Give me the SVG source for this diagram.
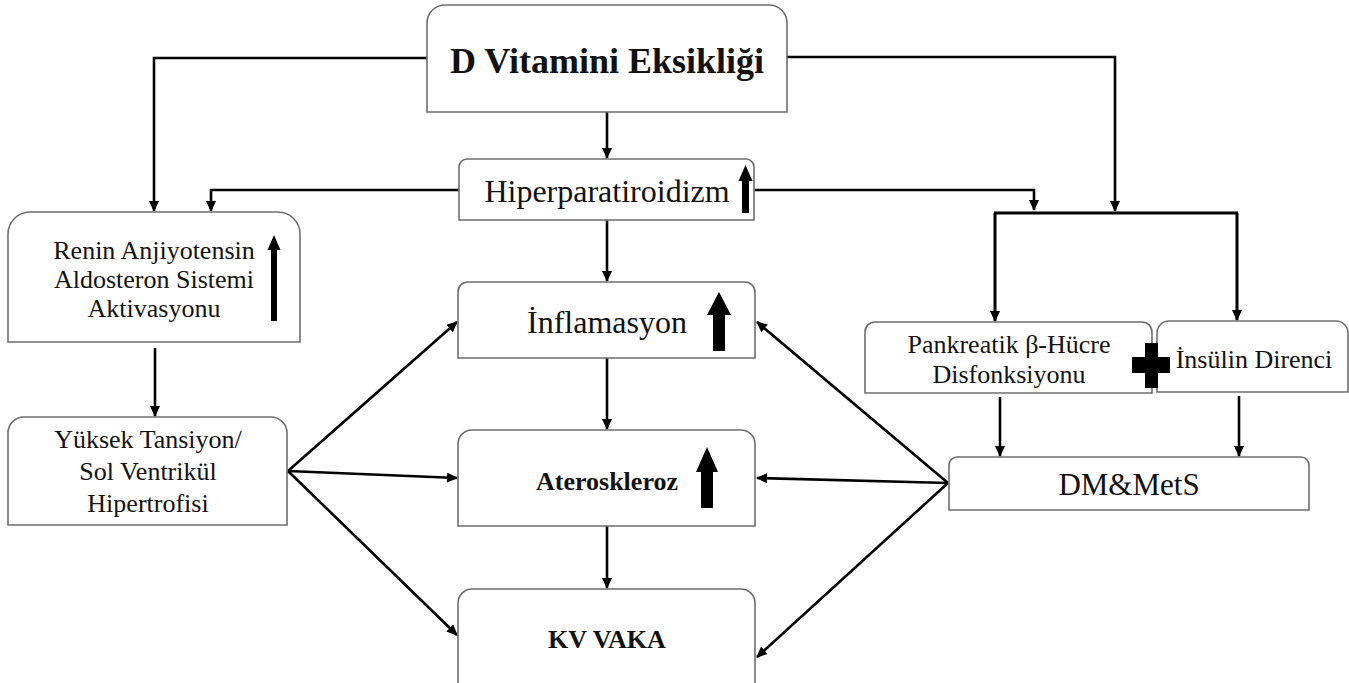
<svg xmlns="http://www.w3.org/2000/svg" width="1349" height="683" viewBox="0 0 1349 683">
<style>
.box{fill:#fff;stroke:#6e6e6e;stroke-width:1.6}
.t{font-family:"Liberation Serif",LiberationSerif,"Times New Roman",Times,"DejaVu Serif",serif;fill:#111;text-anchor:middle}
.b{font-weight:bold}
.c{fill:none;stroke:#000;stroke-width:2.6}
.ca{fill:none;stroke:#000;stroke-width:2.6;marker-end:url(#ah)}
.blk{fill:#000}
</style>
<defs>
<marker id="ah" markerUnits="userSpaceOnUse" markerWidth="11" markerHeight="10" refX="10" refY="5" orient="auto">
<path d="M0,0 L11,5 L0,10 Z" fill="#000"/>
</marker>
</defs>
<rect width="1349" height="683" fill="#fff"/>
<g id="connectors">
<path class="ca" d="M607,112 V158"/>
<path class="ca" d="M427,58 H154 V211"/>
<path class="ca" d="M787,57 H1115 V211"/>
<path class="ca" d="M459,190 H211 V211"/>
<path class="ca" d="M754,190 H1034 V210"/>
<path class="c" d="M994,213 H1238" style="stroke-width:3"/>
<path class="ca" d="M995,213 V321" style="stroke-width:3"/>
<path class="ca" d="M1237,213 V320" style="stroke-width:3"/>
<path class="ca" d="M607,220 V281"/>
<path class="ca" d="M155,348 V416"/>
<path class="ca" d="M607,358 V429"/>
<path class="ca" d="M607,526 V588"/>
<path class="ca" d="M288,471 L457,322"/>
<path class="ca" d="M288,471 L457,478"/>
<path class="ca" d="M288,471 L457,635"/>
<path class="ca" d="M948,483 L757,322"/>
<path class="ca" d="M948,483 L757,478"/>
<path class="ca" d="M948,483 L757,657"/>
<path class="ca" d="M1000,397 V456"/>
<path class="ca" d="M1239,396 V456"/>
</g>
<g id="n-dvit">
<path class="box" d="M427,112 V23 A18,18 0 0 1 445,5 H769 A18,18 0 0 1 787,23 V112 Z"/>
<text class="t b" x="607" y="73" font-size="36">D Vitamini Eksikliği</text>
</g>
<g id="n-hiper">
<path class="box" d="M459,220 V167 A8,8 0 0 1 467,159 H746 A8,8 0 0 1 754,167 V220 Z"/>
<text class="t" x="607" y="202" font-size="32">Hiperparatiroidizm</text>
<polygon class="blk" points="745.5,165 752.5,181 749,181 749,213 742,213 742,181 738.5,181"/>
</g>
<g id="n-renin">
<path class="box" d="M8,342 V234 A22,22 0 0 1 30,212 H278 A22,22 0 0 1 300,234 V342 Z"/>
<text class="t" x="154" y="259" font-size="26">Renin Anjiyotensin</text>
<text class="t" x="154" y="288" font-size="26">Aldosteron Sistemi</text>
<text class="t" x="154" y="317" font-size="26">Aktivasyonu</text>
<polygon class="blk" points="274,235 280.5,250 277,250 277,321 271,321 271,250 267.5,250"/>
</g>
<g id="n-yuksek">
<path class="box" d="M8,525 V433 A16,16 0 0 1 24,417 H271 A16,16 0 0 1 287,433 V525 Z"/>
<text class="t" x="148" y="448" font-size="26">Yüksek Tansiyon/</text>
<text class="t" x="148" y="480" font-size="26">Sol Ventrikül</text>
<text class="t" x="148" y="512" font-size="26">Hipertrofisi</text>
</g>
<g id="n-infl">
<path class="box" d="M458,358 V292 A10,10 0 0 1 468,282 H745 A10,10 0 0 1 755,292 V358 Z"/>
<text class="t" x="607" y="333" font-size="32">İnflamasyon</text>
<polygon class="blk" points="719,292 731,315 725,315 725,351 713,351 713,315 707,315"/>
</g>
<g id="n-ater">
<path class="box" d="M458,526 V444 A14,14 0 0 1 472,430 H741 A14,14 0 0 1 755,444 V526 Z"/>
<text class="t b" x="607" y="490" font-size="26">Ateroskleroz</text>
<polygon class="blk" points="707,447 718,472 713,472 713,508 701,508 701,472 696,472"/>
</g>
<g id="n-kv">
<path class="box" d="M458,700 V603 A14,14 0 0 1 472,589 H741 A14,14 0 0 1 755,603 V700"/>
<text class="t b" x="607" y="648" font-size="26">KV VAKA</text>
</g>
<g id="n-pank">
<path class="box" d="M865,393 V332 A10,10 0 0 1 875,322 H1142 A10,10 0 0 1 1152,332 V393 Z"/>
<text class="t" x="1009" y="353" font-size="26">Pankreatik β-Hücre</text>
<text class="t" x="1009" y="383" font-size="26">Disfonksiyonu</text>
</g>
<g id="n-insulin">
<path class="box" d="M1157,392 V333 A12,12 0 0 1 1169,321 H1336 A12,12 0 0 1 1348,333 V392 Z"/>
<text class="t" x="1254" y="368" font-size="26">İnsülin Direnci</text>
</g>
<g id="plus">
<rect class="blk" x="1145" y="343" width="13" height="45"/>
<rect class="blk" x="1132" y="357" width="38" height="16"/>
</g>
<g id="n-dm">
<path class="box" d="M949,510 V465 A8,8 0 0 1 957,457 H1301 A8,8 0 0 1 1309,465 V510 Z"/>
<text class="t" x="1129" y="495" font-size="31">DM&amp;MetS</text>
</g>
</svg>
